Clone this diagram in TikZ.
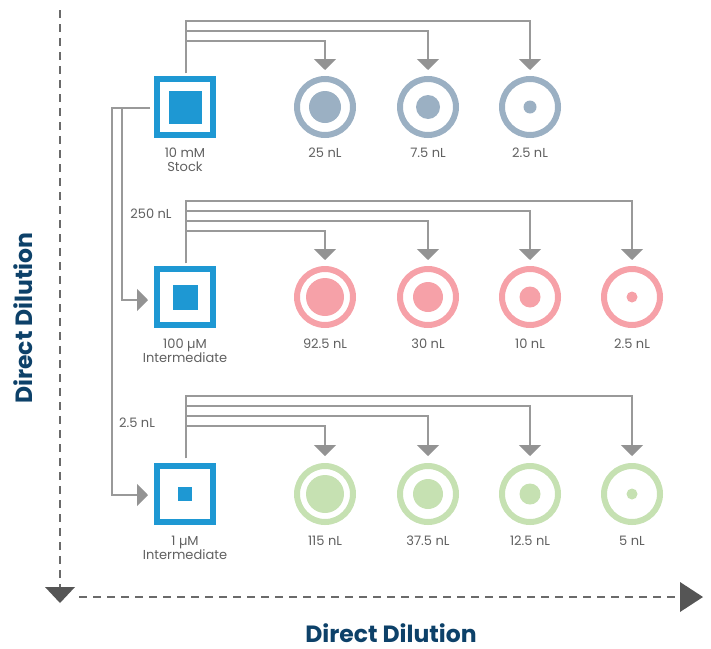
\documentclass[tikz,border=0pt]{standalone}
\usepackage{fontspec}
\setmainfont{Poppins}
\usetikzlibrary{arrows.meta,calc}
\definecolor{boxblue}{HTML}{1E98D3}
\definecolor{ringgray}{HTML}{9BB0C3}
\definecolor{ringpink}{HTML}{F6A1A8}
\definecolor{ringgreen}{HTML}{C6E1B2}
\definecolor{conngray}{HTML}{999999}
\definecolor{tipgray}{HTML}{939393}
\definecolor{axisgray}{HTML}{6A6A6A}
\definecolor{axisdark}{HTML}{555555}
\definecolor{txtgray}{HTML}{606060}
\definecolor{titleblue}{HTML}{0D4169}
\begin{document}
\begin{tikzpicture}[x=1pt,y=-1pt,
 srcbox/.style={draw=boxblue,line width=6pt,minimum size=56pt,inner sep=0pt,outer sep=0pt,fill=white},
 core/.style={fill=boxblue,inner sep=0pt,outer sep=0pt},
 well/.style={circle,line width=6pt,minimum size=56pt,inner sep=0pt,outer sep=0pt},
 dot/.style={circle,inner sep=0pt,outer sep=0pt},
 conn/.style={draw=conngray,line width=1.4pt,-{Triangle[width=22pt,length=11pt,color=tipgray]}},
 lbl/.style={font=\fontsize{13}{14}\selectfont,text=txtgray,align=center,inner sep=0pt},
 ttl/.style={font=\fontsize{23.5}{26}\selectfont\bfseries,text=titleblue,inner sep=0pt},
 axis/.style={draw=axisgray,line width=1.5pt,dash pattern=on 8pt off 6pt}
]
\useasboundingbox (0,0) rectangle (711,648);

% axes
\coordinate (vt) at (60,10);
\coordinate (vb) at (60,587);
\coordinate (hl) at (79,597);
\coordinate (hr) at (680,597);
\draw[axis] (vt) -- (vb);
\draw[axis] (hl) -- (hr);
\fill[axisdark] (45,587) -- (75,587) -- (60,603) -- cycle;
\fill[axisdark] (680,582) -- (680,612) -- (703,597) -- cycle;
\node[ttl] (tx) at (391,633) {Direct Dilution};
\node[ttl,rotate=90] (ty) at (23,318) {Direct Dilution};

% source boxes
\node[srcbox] (s1) at (185,107) {};
\node[core,minimum size=33pt] (s1c) at (s1) {};
\node[srcbox] (s2) at (185,297) {};
\node[core,minimum size=25pt] (s2c) at (s2) {};
\node[srcbox] (s3) at (185,494) {};
\node[core,minimum size=14pt] (s3c) at (s3) {};

% row 1 wells
\node[well,draw=ringgray] (c11) at (325,107) {};
\node[well,draw=ringgray] (c12) at (428,107) {};
\node[well,draw=ringgray] (c13) at (530,107) {};
\node[dot,fill=ringgray,minimum size=32pt] (d11) at (c11) {};
\node[dot,fill=ringgray,minimum size=24pt] (d12) at (c12) {};
\node[dot,fill=ringgray,minimum size=13pt] (d13) at (c13) {};

% row 2 wells
\node[well,draw=ringpink] (c21) at (325,297) {};
\node[well,draw=ringpink] (c22) at (428,297) {};
\node[well,draw=ringpink] (c23) at (530,297) {};
\node[well,draw=ringpink] (c24) at (632,297) {};
\node[dot,fill=ringpink,minimum size=38pt] (d21) at (c21) {};
\node[dot,fill=ringpink,minimum size=30pt] (d22) at (c22) {};
\node[dot,fill=ringpink,minimum size=21pt] (d23) at (c23) {};
\node[dot,fill=ringpink,minimum size=11pt] (d24) at (c24) {};

% row 3 wells
\node[well,draw=ringgreen] (c31) at (325,494) {};
\node[well,draw=ringgreen] (c32) at (428,494) {};
\node[well,draw=ringgreen] (c33) at (530,494) {};
\node[well,draw=ringgreen] (c34) at (632,494) {};
\node[dot,fill=ringgreen,minimum size=38pt] (d31) at (c31) {};
\node[dot,fill=ringgreen,minimum size=30pt] (d32) at (c32) {};
\node[dot,fill=ringgreen,minimum size=21pt] (d33) at (c33) {};
\node[dot,fill=ringgreen,minimum size=11pt] (d34) at (c34) {};

% labels
\node[lbl] (ls1) at (185,160) {10 mM\\Stock};
\node[lbl] (l11) at (325,153) {25 nL};
\node[lbl] (l12) at (428,153) {7.5 nL};
\node[lbl] (l13) at (530,153) {2.5 nL};
\node[lbl] (ls2) at (185,351) {100 µM\\Intermediate};
\node[lbl] (l21) at (325,344) {92.5 nL};
\node[lbl] (l22) at (428,344) {30 nL};
\node[lbl] (l23) at (530,344) {10 nL};
\node[lbl] (l24) at (632,344) {2.5 nL};
\node[lbl] (ls3) at (185,548) {1 µM\\Intermediate};
\node[lbl] (l31) at (325,541) {115 nL};
\node[lbl] (l32) at (428,541) {37.5 nL};
\node[lbl] (l33) at (530,541) {12.5 nL};
\node[lbl] (l34) at (632,541) {5 nL};
\node[lbl] (v2) at (151,214) {250 nL};
\node[lbl] (v3) at (137,423) {2.5 nL};

% row 1 connectors
\draw[conn] ([xshift=1pt,yshift=6pt]s1.north) |- ([yshift=38pt]c11.north) -- ([yshift=9pt]c11.north);
\draw[conn] ([xshift=1pt,yshift=6pt]s1.north) |- ([yshift=48pt]c12.north) -- ([yshift=9pt]c12.north);
\draw[conn] ([xshift=1pt,yshift=6pt]s1.north) |- ([yshift=58pt]c13.north) -- ([yshift=9pt]c13.north);

% row 2 connectors
\draw[conn] ([xshift=1pt,yshift=6pt]s2.north) |- ([yshift=38pt]c21.north) -- ([yshift=9pt]c21.north);
\draw[conn] ([xshift=1pt,yshift=6pt]s2.north) |- ([yshift=48pt]c22.north) -- ([yshift=9pt]c22.north);
\draw[conn] ([xshift=1pt,yshift=6pt]s2.north) |- ([yshift=58pt]c23.north) -- ([yshift=9pt]c23.north);
\draw[conn] ([xshift=1pt,yshift=6pt]s2.north) |- ([yshift=68pt]c24.north) -- ([yshift=9pt]c24.north);

% row 3 connectors
\draw[conn] ([xshift=1pt,yshift=8pt]s3.north) |- ([yshift=40pt]c31.north) -- ([yshift=10pt]c31.north);
\draw[conn] ([xshift=1pt,yshift=8pt]s3.north) |- ([yshift=50pt]c32.north) -- ([yshift=10pt]c32.north);
\draw[conn] ([xshift=1pt,yshift=8pt]s3.north) |- ([yshift=60pt]c33.north) -- ([yshift=10pt]c33.north);
\draw[conn] ([xshift=1pt,yshift=8pt]s3.north) |- ([yshift=70pt]c34.north) -- ([yshift=10pt]c34.north);

% stock to intermediates
\draw[conn] ([xshift=-7pt,yshift=-1pt]s1.west) -| ([xshift=-35pt,yshift=-3pt]s2.west) -- ([xshift=-9pt,yshift=-3pt]s2.west);
\draw[conn] ([xshift=-7pt,yshift=-1pt]s1.west) -| ([xshift=-45pt,yshift=-1pt]s3.west) -- ([xshift=-9pt,yshift=-1pt]s3.west);
\end{tikzpicture}
\end{document}
